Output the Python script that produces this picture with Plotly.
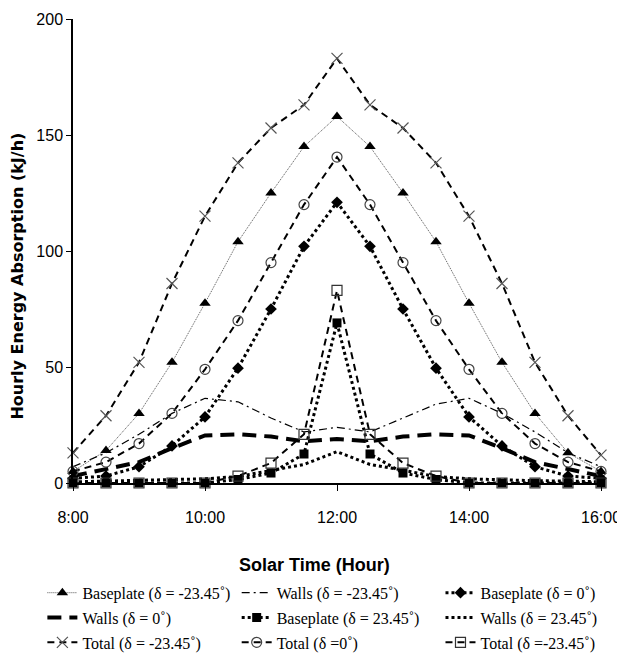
import plotly.graph_objects as go

hours = [8 + 0.5 * i for i in range(17)]
tick_vals = [8, 10, 12, 14, 16]
tick_text = ["8:00", "10:00", "12:00", "14:00", "16:00"]

base_m23 = [5, 14, 30, 52, 77.5, 104, 125, 145, 158, 145, 125, 104, 77.5, 52, 30, 13, 5]
walls_m23 = [7, 13, 21, 30, 36.5, 35, 28, 22, 24, 22, 28, 34, 36.5, 30, 22, 13, 7]
base_0 = [2, 3, 7, 16, 28.5, 49.5, 75, 102, 121, 102, 75, 49.5, 28.5, 16, 7, 3, 2]
walls_0 = [3, 6, 9, 15, 20.5, 21, 20, 18, 19, 18, 20, 21, 20.5, 15, 9, 6, 3]
base_23 = [0, 0, 0, 0, 0, 1.5, 4.3, 12.5, 69, 12.5, 4.3, 1.5, 0, 0, 0, 0, 0]
walls_23 = [0.5, 0.8, 1, 1.3, 1.8, 2.8, 5.5, 8, 13.5, 8, 5.5, 2.8, 1.8, 1.3, 1, 0.8, 0.5]
total_m23 = [13, 29, 52, 86, 115, 138, 153, 163, 183, 163, 153, 138, 115, 86, 52, 29, 12]
total_0 = [5, 9, 17, 30, 49, 70, 95, 120, 140.5, 120, 95, 70, 49, 30, 17, 9, 5]
total_23 = [0, 0, 0, 0, 0, 3, 8.6, 21, 83, 21, 8.6, 3, 0, 0, 0, 0, 0]

names = [
    "Baseplate (δ = -23.45˚)", "Walls (δ = -23.45˚)", "Baseplate (δ = 0˚)",
    "Walls (δ = 0˚)", "Baseplate (δ = 23.45˚)", "Walls (δ = 23.45˚)",
    "Total (δ = -23.45˚)", "Total (δ =0˚)", "Total (δ =-23.45˚)",
]

fig = go.Figure()

def add(y, name, legend, line, marker=None, mode="lines+markers"):
    fig.add_trace(go.Scatter(
        x=hours, y=y, name=name, mode=mode, line=line,
        marker=marker if marker else {}, legend=legend,
        legendgroup=name, cliponaxis=False,
    ))

# column 1
add(base_m23, names[0], "legend",
    dict(color="#555555", width=1, dash="1px,1px"),
    dict(symbol="triangle-up", size=10, color="black"))
add(walls_0, names[3], "legend",
    dict(color="black", width=4, dash="14px,8px"), mode="lines")
add(total_m23, names[6], "legend",
    dict(color="black", width=2, dash="7px,5px"),
    dict(symbol="x-thin-open", size=11, color="#555555", line=dict(width=1.2, color="#555555")))
# column 2
add(walls_m23, names[1], "legend2",
    dict(color="black", width=1.2, dash="8px,4px,2px,4px"), mode="lines")
add(base_23, names[4], "legend2",
    dict(color="black", width=3, dash="3px,3px"),
    dict(symbol="square", size=9, color="black"))
add(total_0, names[7], "legend2",
    dict(color="black", width=2, dash="7px,5px"),
    dict(symbol="circle-open", size=10, color="#444444", line=dict(width=1.2)))
# column 3
add(base_0, names[2], "legend3",
    dict(color="black", width=3, dash="3px,3px"),
    dict(symbol="diamond", size=9, color="black"))
add(walls_23, names[5], "legend3",
    dict(color="black", width=3, dash="3px,3px"), mode="lines")
add(total_23, names[8], "legend3",
    dict(color="black", width=2, dash="7px,5px"),
    dict(symbol="square-open", size=10, color="#333333", line=dict(width=1.2)))

tick_font = dict(family="Liberation Sans", size=16, color="black")
leg_font = dict(family="Liberation Serif", size=16, color="black")
leg_common = dict(font=leg_font, bgcolor="rgba(0,0,0,0)", yanchor="top", xanchor="left",
                  y=-0.200, tracegroupgap=1, itemwidth=30)

# page body adds an 8px offset, so the figure is 8px smaller than the window
fig.update_layout(
    width=617, height=652,
    margin=dict(l=65, r=24, t=11, b=177, autoexpand=False),
    plot_bgcolor="white", paper_bgcolor="white",
    legend=dict(x=-0.058, **leg_common),
    legend2=dict(x=0.31, **leg_common),
    legend3=dict(x=0.696, **leg_common),
    xaxis=dict(range=[8, 16], tickvals=tick_vals, ticktext=tick_text, automargin=False,
               showgrid=False, zeroline=False, showline=True, linecolor="black", linewidth=1.5,
               ticks="outside", ticklen=6, tickcolor="black", tickfont=tick_font,
               ticklabelstandoff=13),
    yaxis=dict(range=[0, 200], tickvals=[0, 50, 100, 150, 200], automargin=False,
               showgrid=False, zeroline=False, showline=True, linecolor="black", linewidth=1.5,
               ticks="outside", ticklen=5, tickcolor="black", tickfont=tick_font),
    annotations=[
        dict(text="<b>Hourly Energy Absorption (kJ/h)</b>", xref="paper", yref="paper",
             x=-0.106, y=0.445, xanchor="center", yanchor="middle", textangle=-90, showarrow=False,
             font=dict(family="DejaVu Sans", size=16, color="black")),
        dict(text="<b>Solar Time (Hour)</b>", xref="paper", yref="paper",
             x=0.458, y=-0.177, xanchor="center", yanchor="middle", showarrow=False,
             font=dict(family="Liberation Sans", size=18, color="black")),
    ],
)

fig.write_html("out.html")
